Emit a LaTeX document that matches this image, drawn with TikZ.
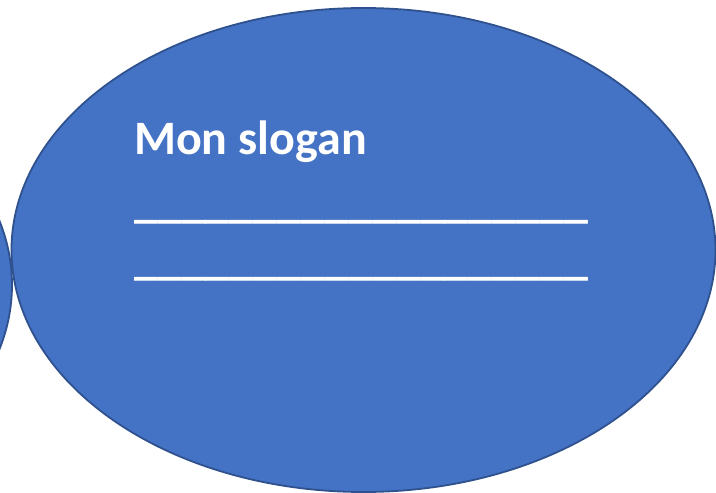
\documentclass[tikz,border=0pt]{standalone}
\usepackage{fontspec}
\setmainfont{Carlito}
\usepackage{xcolor}
\usetikzlibrary{positioning}

\definecolor{bubblefill}{HTML}{4472C4}
\definecolor{bubbleline}{HTML}{2F528F}

\def\blanks{\_\_\_\_\_\_\_\_\_\_\_\_\_\_\_\_\_\_\_}

\begin{document}
\begin{tikzpicture}[
  x=1pt, y=-1pt,
  bubble/.style={draw=bubbleline, fill=bubblefill, line width=1.8pt},
  slogantext/.style={text=white, font=\fontsize{48}{58}\selectfont\bfseries, anchor=base west, inner sep=0pt}
]

\useasboundingbox (0,0) rectangle (716,493);

% the two bubbles
\draw[bubble] (-340,285) ellipse [x radius=352pt, y radius=242pt];
\draw[bubble] (363.5,250) ellipse [x radius=352pt, y radius=242pt];

% slogan and blank lines
\node[slogantext] (slogan) at (134,154) {Mon slogan};
\node[slogantext] (blankA) at (134,217) {\blanks};
\node[slogantext] (blankB) at (134,274) {\blanks};

\end{tikzpicture}
\end{document}
